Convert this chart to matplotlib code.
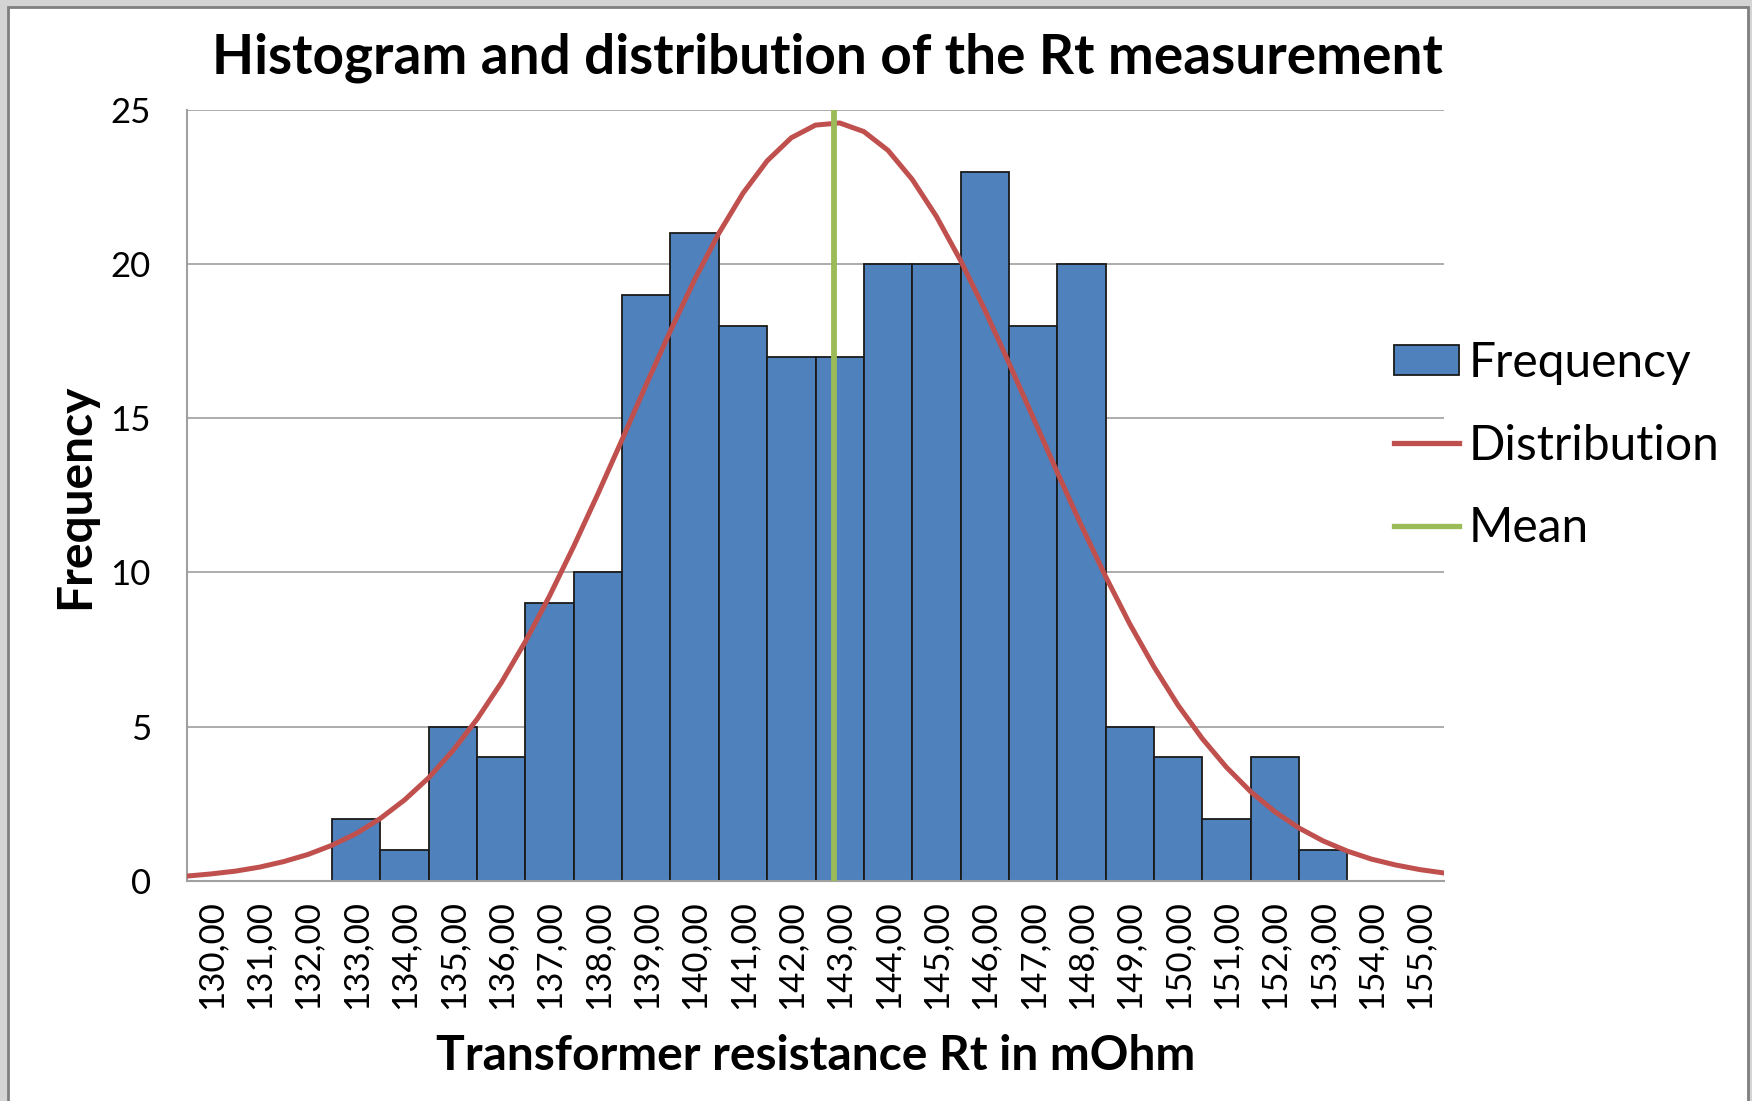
import numpy as np
import matplotlib.pyplot as plt
from matplotlib.patches import Rectangle
from matplotlib.lines import Line2D

plt.rcParams['font.family'] = ['Lato', 'DejaVu Sans']

# histogram classes (mOhm) and counts
classes = [130, 131, 132, 133, 134, 135, 136, 137, 138, 139, 140, 141, 142,
           143, 144, 145, 146, 147, 148, 149, 150, 151, 152, 153, 154, 155]
counts = [0, 0, 0, 2, 1, 5, 4, 9, 10, 19, 21, 18, 17,
          17, 20, 20, 23, 18, 20, 5, 4, 2, 4, 1, 0, 0]
tick_labels = ['%d,00' % c for c in classes]

# fitted distribution curve, every half class
dist_x = [129.5, 130.0, 130.5, 131.0, 131.5, 132.0, 132.5, 133.0, 133.5, 134.0,
          134.5, 135.0, 135.5, 136.0, 136.5, 137.0, 137.5, 138.0, 138.5, 139.0,
          139.5, 140.0, 140.5, 141.0, 141.5, 142.0, 142.5, 143.0, 143.5, 144.0,
          144.5, 145.0, 145.5, 146.0, 146.5, 147.0, 147.5, 148.0, 148.5, 149.0,
          149.5, 150.0, 150.5, 151.0, 151.5, 152.0, 152.5, 153.0, 153.5, 154.0,
          154.5, 155.0, 155.5]
dist_y = [0.15, 0.22, 0.31, 0.44, 0.62, 0.85, 1.15, 1.53, 2.02, 2.62,
          3.34, 4.22, 5.24, 6.42, 7.76, 9.24, 10.85, 12.55, 14.31, 16.10,
          17.84, 19.50, 21.00, 22.30, 23.35, 24.10, 24.51, 24.58, 24.30, 23.69,
          22.75, 21.55, 20.12, 18.52, 16.80, 15.03, 13.25, 11.52, 9.87, 8.33,
          6.94, 5.69, 4.61, 3.68, 2.89, 2.24, 1.71, 1.29, 0.96, 0.70,
          0.51, 0.36, 0.25]
mean_value = 142.88

fig = plt.figure(figsize=(17.52, 11.01), dpi=100, facecolor='#d4d4d4')
fig.patches.append(Rectangle((8 / 1752, -0.01), 1740 / 1752, 1.01 - 7 / 1101,
                             transform=fig.transFigure, facecolor='white',
                             edgecolor='#7f7f7f', linewidth=2, zorder=-10))

ax = fig.add_axes([187 / 1752, 1 - 880.7 / 1101, 1257 / 1752, 770.7 / 1101])
ax.set_facecolor('white')

ax.bar(classes, counts, width=1.0, color='#4F81BD', edgecolor='#1a1a1a',
       linewidth=1.3, zorder=2)
ax.plot(dist_x, dist_y, color='#C0504D', linewidth=3.6, zorder=3,
        solid_capstyle='round', solid_joinstyle='round')
ax.plot([mean_value, mean_value], [0, 25], color='#9BBB59', linewidth=4.2,
        zorder=4)

ax.set_xlim(129.5, 155.5)
ax.set_ylim(0, 25)
ax.set_yticks([0, 5, 10, 15, 20, 25])
ax.set_xticks(classes)
ax.set_xticklabels(tick_labels, rotation=90)
ax.tick_params(axis='both', length=0, labelsize=25, colors='black')
ax.tick_params(axis='x', pad=14)
ax.tick_params(axis='y', pad=26)
ax.yaxis.grid(True, color='#a6a6a6', linewidth=1.3)
ax.set_axisbelow(True)
for side in ['top', 'right']:
    ax.spines[side].set_visible(False)
for side in ['left', 'bottom']:
    ax.spines[side].set_color('#a0a0a0')
    ax.spines[side].set_linewidth(1.5)

fig.text(827 / 1752, 1 - 58 / 1101, 'Histogram and distribution of the Rt measurement',
         ha='center', va='center', fontsize=39.5, fontweight='bold')
fig.text(816 / 1752, 1 - 1056 / 1101, 'Transformer resistance Rt in mOhm',
         ha='center', va='center', fontsize=34.5, fontweight='bold')
fig.text(75 / 1752, 1 - 496 / 1101, 'Frequency', rotation=90,
         ha='center', va='center', fontsize=34.5, fontweight='bold')

handles = [Rectangle((0, 0), 1, 1, facecolor='#4F81BD', edgecolor='#1a1a1a', linewidth=1.3),
           Line2D([], [], color='#C0504D', linewidth=3.8),
           Line2D([], [], color='#9BBB59', linewidth=3.8)]
fig.legend(handles, ['Frequency', 'Distribution', 'Mean'],
           loc='upper left', bbox_to_anchor=(1375 / 1752, 1 - 322 / 1101),
           frameon=False, fontsize=34.5, handlelength=1.35, handleheight=0.6,
           handletextpad=0.2, labelspacing=0.8, borderaxespad=0)

fig.savefig('out.png', dpi=100, facecolor=fig.get_facecolor())
